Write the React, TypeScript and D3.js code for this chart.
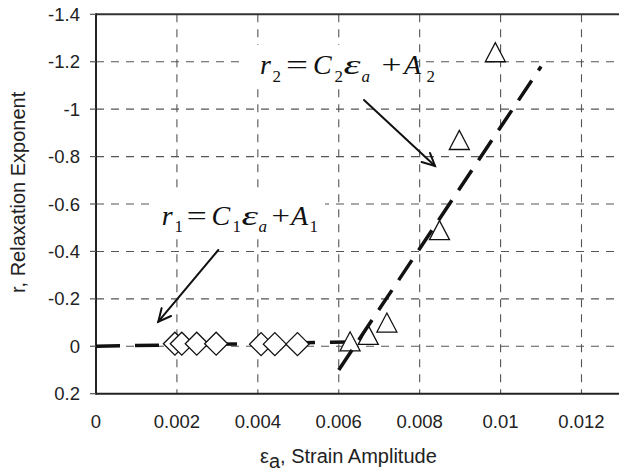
import React from "react";
import * as d3 from "d3";

// ---- data ----
const xTicks = [0, 0.002, 0.004, 0.006, 0.008, 0.01, 0.012];
const yTicks = [-1.4, -1.2, -1, -0.8, -0.6, -0.4, -0.2, 0, 0.2];
const xTickLabels = ["0", "0.002", "0.004", "0.006", "0.008", "0.01", "0.012"];
const yTickLabels = ["-1.4", "-1.2", "-1", "-0.8", "-0.6", "-0.4", "-0.2", "0", "0.2"];

const diamondX = [0.00195, 0.00212, 0.00249, 0.00297, 0.00408, 0.00442, 0.00498];
const diamondY = [-0.011, -0.011, -0.011, -0.011, -0.009, -0.009, -0.009];

const triangleX = [0.00628, 0.00673, 0.00719, 0.00849, 0.00898, 0.00987];
const triangleY = [-0.021, -0.048, -0.1, -0.49, -0.87, -1.24];

const fit1X = [0, 0.0063];
const fit1Y = [0.0, -0.018];
const fit2X = [0.006, 0.011];
const fit2Y = [0.1, -1.18];

const W = 619;
const H = 472;

const SANS = "'Liberation Sans', Arial, sans-serif";
const SERIF = "'Liberation Serif', 'Times New Roman', serif";

type Piece = { t: string; x: number; it?: boolean; sub?: boolean; w?: number };

function Equation({ pieces, baseline }: { pieces: Piece[]; baseline: number }) {
  return (
    <text fontFamily={SERIF} fill="#111">
      {pieces.map((p, i) => (
        <tspan
          key={i}
          x={p.x}
          y={baseline + (p.sub ? 7.5 : 0)}
          fontSize={p.sub ? 17 : 28}
          fontStyle={p.it ? "italic" : "normal"}
          {...(p.w ? { textLength: p.w, lengthAdjust: "spacingAndGlyphs" } : {})}
        >
          {p.t}
        </tspan>
      ))}
    </text>
  );
}

function Arrow({ x1, y1, x2, y2 }: { x1: number; y1: number; x2: number; y2: number }) {
  const ang = Math.atan2(y2 - y1, x2 - x1);
  const L = 14;
  const a = (26 * Math.PI) / 180;
  const h1 = [x2 - L * Math.cos(ang - a), y2 - L * Math.sin(ang - a)];
  const h2 = [x2 - L * Math.cos(ang + a), y2 - L * Math.sin(ang + a)];
  return (
    <g stroke="#111" strokeWidth={2} fill="none" strokeLinecap="round" strokeLinejoin="miter">
      <line x1={x1} y1={y1} x2={x2} y2={y2} />
      <polyline points={`${h1[0]},${h1[1]} ${x2},${y2} ${h2[0]},${h2[1]}`} />
    </g>
  );
}

export default function App() {
  const x = d3.scaleLinear().domain([0, 0.012]).range([96, 581.5]);
  const y = d3.scaleLinear().domain([-1.4, 0.2]).range([14.3, 393.7]);
  const x0 = x(0);
  const xRight = W;
  const yTop = y(-1.4);
  const yBot = y(0.2);

  const line = d3
    .line<[number, number]>()
    .x((d) => x(d[0]))
    .y((d) => y(d[1]));

  const fit1 = fit1X.map((v, i) => [v, fit1Y[i]] as [number, number]);
  const fit2 = fit2X.map((v, i) => [v, fit2Y[i]] as [number, number]);

  const dS = 11.5;
  const triW = 10;
  const triH = 9.5;

  const eq2: Piece[] = [
    { t: "r", x: 260, it: true },
    { t: "2", x: 272.5, sub: true },
    { t: "=", x: 286, w: 22 },
    { t: "C", x: 313, it: true },
    { t: "2", x: 334.5, sub: true },
    { t: "ε", x: 343.5, it: true, w: 17 },
    { t: "a", x: 361.5, it: true, sub: true },
    { t: "+", x: 381.5, w: 20 },
    { t: "A", x: 404, it: true },
    { t: "2", x: 426.5, sub: true },
  ];
  const eq1: Piece[] = [
    { t: "r", x: 161.7, it: true },
    { t: "1", x: 174.5, sub: true },
    { t: "=", x: 186.7, w: 20 },
    { t: "C", x: 211.5, it: true },
    { t: "1", x: 232.5, sub: true },
    { t: "ε", x: 241.5, it: true, w: 16.5 },
    { t: "a", x: 258.5, it: true, sub: true },
    { t: "+", x: 271.5, w: 18.5 },
    { t: "A", x: 291, it: true },
    { t: "1", x: 309.5, sub: true },
  ];

  return (
    <svg
      width={W}
      height={H}
      viewBox={`0 0 ${W} ${H}`}
      style={{ position: "absolute", left: 0, top: 0, background: "#fff" }}
    >
      <rect x={0} y={0} width={W} height={H} fill="#fff" />
      {/* grid */}
      <g stroke="#555" strokeWidth={1.1} strokeDasharray="8,7">
        {yTicks
          .filter((v) => v !== -1.4 && v !== 0.2)
          .map((v, i) => (
            <line key={"h" + i} x1={x0} x2={xRight} y1={y(v)} y2={y(v)} />
          ))}
        {xTicks
          .filter((v) => v !== 0)
          .map((v, i) => (
            <line key={"v" + i} x1={x(v)} x2={x(v)} y1={yTop} y2={yBot} />
          ))}
      </g>
      {/* frame */}
      <line x1={x0} x2={xRight} y1={yTop} y2={yTop} stroke="#333" strokeWidth={2} />
      <line x1={x0} x2={xRight} y1={yBot} y2={yBot} stroke="#222" strokeWidth={2} />
      <line x1={x0} x2={x0} y1={yTop - 1} y2={yBot + 1} stroke="#222" strokeWidth={2} />
      {/* y ticks */}
      <g stroke="#555" strokeWidth={1.2}>
        {yTicks.map((v, i) => (
          <line key={i} x1={x0 - 6} x2={x0} y1={y(v)} y2={y(v)} />
        ))}
      </g>
      <g fontFamily={SANS} fontSize={18.5} fill="#222">
        {yTicks.map((v, i) => (
          <text key={i} x={80} y={y(v) + 6.5} textAnchor="end">
            {yTickLabels[i]}
          </text>
        ))}
        {xTicks.map((v, i) => (
          <text key={i} x={x(v)} y={427.5} textAnchor="middle">
            {xTickLabels[i]}
          </text>
        ))}
      </g>
      {/* axis titles */}
      <text x={260} y={463} fontFamily={SANS} fontSize={20} fill="#222">
        ε<tspan dy={5}>a</tspan>
        <tspan dy={-5}>, Strain Amplitude</tspan>
      </text>
      <text
        transform={`translate(25,293) rotate(-90)`}
        fontFamily={SANS}
        fontSize={20}
        fill="#222"
      >
        r, Relaxation Exponent
      </text>

      {/* fit line 1 */}
      <path d={line(fit1) || ""} fill="none" stroke="#111" strokeWidth={3.5} strokeDasharray="24,15" />
      {/* diamonds */}
      <g fill="#fff" stroke="#111" strokeWidth={1.3}>
        {diamondX.map((v, i) => {
          const cx = x(v);
          const cy = y(diamondY[i]);
          return (
            <path
              key={i}
              d={`M${cx - dS},${cy} L${cx},${cy - dS} L${cx + dS},${cy} L${cx},${cy + dS} Z`}
            />
          );
        })}
      </g>
      {/* triangles */}
      <g fill="#fff" stroke="#111" strokeWidth={1.3}>
        {triangleX.map((v, i) => {
          const cx = x(v);
          const cy = y(triangleY[i]);
          return (
            <path
              key={i}
              d={`M${cx - triW},${cy + triH} L${cx},${cy - triH} L${cx + triW},${cy + triH} Z`}
            />
          );
        })}
      </g>
      {/* fit line 2 */}
      <path d={line(fit2) || ""} fill="none" stroke="#111" strokeWidth={3.5} strokeDasharray="24,12" />

      {/* annotations with white boxes */}
      <rect x={245} y={45} width={171} height={41} fill="#fff" />
      <rect x={151} y={192} width={174} height={43} fill="#fff" />
      <Equation pieces={eq2} baseline={74} />
      <Equation pieces={eq1} baseline={224.5} />
      <Arrow x1={364} y1={100} x2={435} y2={166} />
      <Arrow x1={218.3} y1={250} x2={158.3} y2={321.7} />
    </svg>
  );
}
